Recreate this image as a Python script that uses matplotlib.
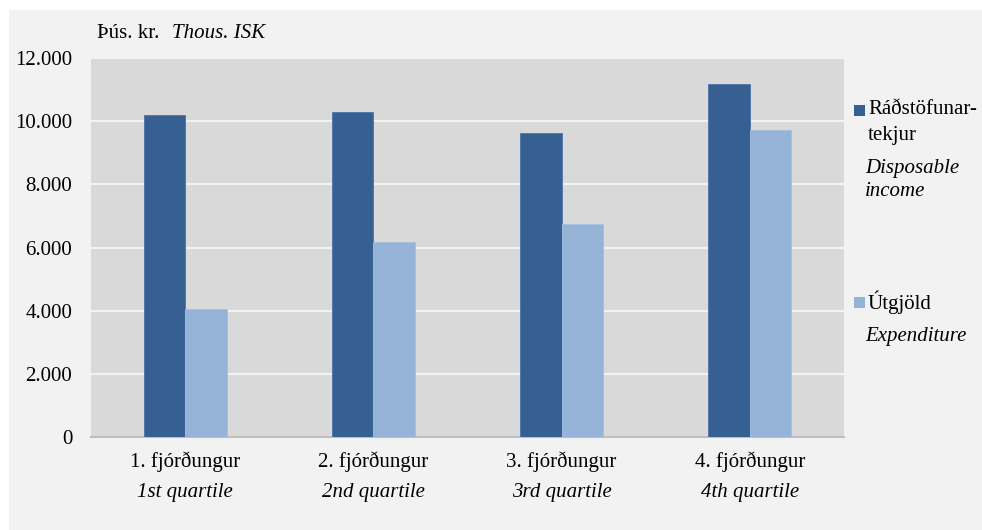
import matplotlib.pyplot as plt
import matplotlib.patches as mpatches
import matplotlib.transforms as mtransforms
import numpy as np

plt.rcParams['font.family'] = ['Liberation Serif', 'DejaVu Serif']

# data
categories_is = ['1. fjórðungur', '2. fjórðungur', '3. fjórðungur', '4. fjórðungur']
categories_en = ['1st quartile', '2nd quartile', '3rd quartile', '4th quartile']
income = [10190, 10280, 9620, 11170]
expenditure = [4060, 6170, 6750, 9720]

dark = '#366092'
light = '#95b3d7'
W, H = 982, 530
fs = 15

fig = plt.figure(figsize=(W / 100, H / 100), dpi=100, facecolor='white')
# light gray panel behind everything
fig.patches.append(mpatches.Rectangle((9 / W, 0), 1, 1 - 10 / H, transform=fig.transFigure,
                                      facecolor='#f2f2f2', edgecolor='none', zorder=-10))

ax = fig.add_axes([91 / W, 1 - 437 / H, (844 - 91) / W, (437 - 58) / H])
ax.set_facecolor('#d9d9d9')

x = np.arange(len(categories_is))
bw = 0.22
ax.bar(x - bw / 2, income, bw, color=dark, edgecolor='#4a74a6', linewidth=0.6, zorder=3)
ax.bar(x + bw / 2, expenditure, bw, color=light, edgecolor='#a6c0df', linewidth=0.6, zorder=3)

ax.set_xlim(-0.5, 3.5)
ax.set_ylim(0, 12000)
ax.set_yticks(np.arange(0, 12001, 2000))
ax.set_yticklabels(['0', '2.000', '4.000', '6.000', '8.000', '10.000', '12.000'], fontsize=fs)
ax.yaxis.grid(True, color='#f2f2f2', linewidth=1.5, zorder=0)
ax.set_axisbelow(True)
ax.tick_params(axis='y', length=0, pad=13.5)
ax.tick_params(axis='x', length=0, labelbottom=False)
for s in ['top', 'right', 'left']:
    ax.spines[s].set_visible(False)
ax.spines['bottom'].set_color('#bfbfbf')
ax.spines['bottom'].set_linewidth(1.5)

# two-line category labels
trans = mtransforms.blended_transform_factory(ax.transData, fig.transFigure)
for i in range(len(categories_is)):
    ax.text(x[i], 1 - 462 / H, categories_is[i], transform=trans, ha='center', va='center', fontsize=fs)
    ax.text(x[i], 1 - 492 / H, categories_en[i], transform=trans, ha='center', va='center',
            fontsize=fs, style='italic')

# unit label
fig.text(97 / W, 1 - 34 / H, 'Þús. kr.', fontsize=fs, va='center')
fig.text(172 / W, 1 - 34 / H, 'Thous. ISK', fontsize=fs, va='center', style='italic')

# legend drawn by hand
for (yy, c) in [(110.5, dark), (302.5, light)]:
    fig.patches.append(mpatches.Rectangle((854 / W, 1 - (yy + 5.5) / H), 11 / W, 11 / H,
                                          transform=fig.transFigure, facecolor=c, edgecolor='none'))
fig.text(868 / W, 1 - 110 / H, 'Ráðstöfunar-', fontsize=fs, va='center')
fig.text(868 / W, 1 - 135 / H, 'tekjur', fontsize=fs, va='center')
fig.text(865 / W, 1 - 169 / H, 'Disposable', fontsize=fs, va='center', style='italic')
fig.text(865 / W, 1 - 192 / H, 'income', fontsize=fs, va='center', style='italic')
fig.text(868 / W, 1 - 302 / H, 'Útgjöld', fontsize=fs, va='center')
fig.text(865 / W, 1 - 336 / H, 'Expenditure', fontsize=fs, va='center', style='italic')

fig.savefig('out.png', dpi=100, facecolor=fig.get_facecolor())
